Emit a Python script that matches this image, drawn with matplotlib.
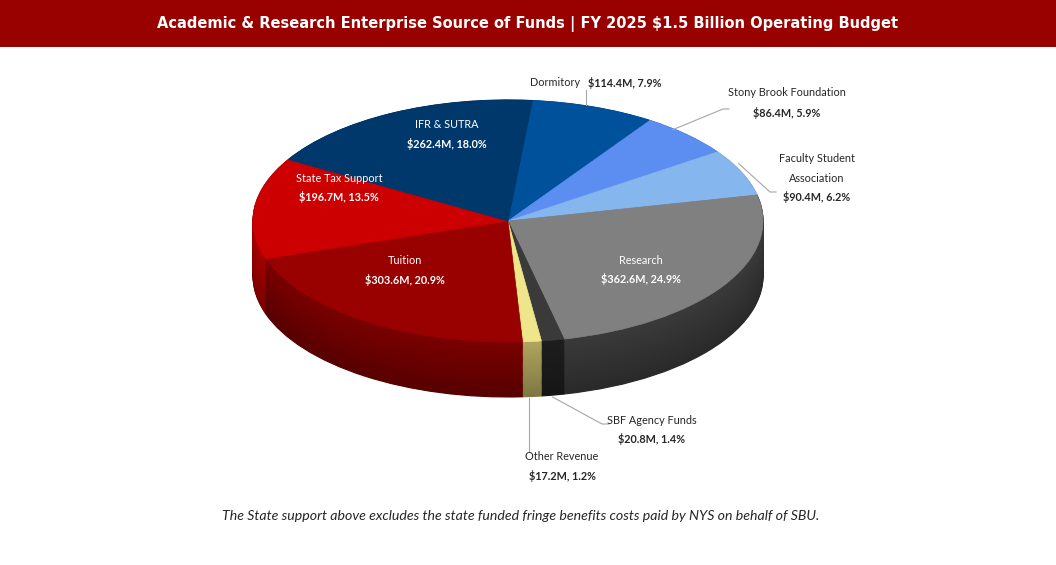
import matplotlib
matplotlib.use("Agg")
import matplotlib.pyplot as plt
import numpy as np
from matplotlib.colors import to_rgb
from matplotlib.transforms import Affine2D
from matplotlib.patches import Rectangle

# ---------------- data ----------------
categories = ["Dormitory", "Stony Brook Foundation", "Faculty Student\nAssociation",
              "Research", "SBF Agency Funds", "Other Revenue", "Tuition",
              "State Tax Support", "IFR & SUTRA"]
values = [114.4, 86.4, 90.4, 362.6, 20.8, 17.2, 303.6, 196.7, 262.4]
pct_labels = ["7.9%", "5.9%", "6.2%", "24.9%", "1.4%", "1.2%", "20.9%", "13.5%", "18.0%"]
top_colors = ["#00519c", "#5b8ef0", "#86b6ee", "#808080", "#3a3a3a", "#efe58a",
              "#990000", "#cc0000", "#00386b"]
side_colors = ["#003f7a", "#4670c0", "#6a92c0", "#3a3a3a", "#1e1e1e", "#b0a65e",
               "#7a0000", "#a80000", "#002a50"]
title = "Academic & Research Enterprise Source of Funds | FY 2025 $1.5 Billion Operating Budget"
footnote = "The State support above excludes the state funded fringe benefits costs paid by NYS on behalf of SBU."

# ---------------- layout ----------------
W, H = 1056, 565
cx, cy, rx, ry, depth = 508, 221, 255, 121, 55
start = 84.5

fig = plt.figure(figsize=(W / 100, H / 100), dpi=100)
fig.patch.set_facecolor("white")
ax = fig.add_axes([0, 0, 1, 1])

def shade(c, f):
    r, g, b = to_rgb(c)
    return (r * f, g * f, b * f)

n = 60
for i in range(n):
    t = i / (n - 1)                      # 0 = bottom layer, 1 = just below top
    d = depth / ry * (1 - t)
    f = 0.72 + 0.28 * t
    wedges, _ = ax.pie(values, colors=[shade(c, f) for c in side_colors],
                       startangle=start, counterclock=False, center=(0, -d), radius=1,
                       wedgeprops=dict(linewidth=0))
    for w in wedges:
        w.set_edgecolor(w.get_facecolor())
        w.set_linewidth(0.8)

wedges, _ = ax.pie(values, colors=top_colors, startangle=start, counterclock=False,
                   center=(0, 0), radius=1, wedgeprops=dict(linewidth=0))
for w in wedges:
    w.set_edgecolor(w.get_facecolor())
    w.set_linewidth(0.5)

ax.set_aspect("auto")
ax.set_xlim((0 - cx) / rx, (W - cx) / rx)
ax.set_ylim((cy - H) / ry, cy / ry)
ax.axis("off")

# pixel transform (origin top-left)
pix = Affine2D().scale(1, -1).translate(0, H)

# title bar
fig.patches.append(Rectangle((0, 0), W, 47, transform=pix, facecolor="#990000",
                             edgecolor="none", zorder=0))
fig.text(528, 24, title, transform=pix, ha="center", va="center", color="white",
         fontsize=10.5, fontweight="bold", family="DejaVu Sans")

lab_font = "Lato"
fs = 7.8

def money(i):
    return f"${values[i]:.1f}M, {pct_labels[i]}"

# mid angle of each slice on ellipse
tot = sum(values)
cum = np.cumsum([0] + values)
def edge_pt(i, bottom=False):
    mid = (cum[i] + values[i] / 2) / tot * 360
    a = np.deg2rad(start - mid)
    x = cx + rx * np.cos(a)
    y = cy - ry * np.sin(a) + (depth if bottom else 0)
    return x, y

# inside labels (white)
inside = {8: (447, 125), 7: (339, 178), 6: (405, 261), 3: (641, 260)}
for i, (x, y) in inside.items():
    fig.text(x, y, categories[i], transform=pix, ha="center", va="center",
             color="white", fontsize=fs, family=lab_font)
    fig.text(x, y + 19, money(i), transform=pix, ha="center", va="center",
             color="white", fontsize=fs, family=lab_font, fontweight="bold")

tc = "#262626"
lc = "#a6a6a6"
# Dormitory
x0, y0 = edge_pt(0)
fig.add_artist(plt.Line2D([x0 - 8, x0 - 8], [y0 - 2, 90], transform=pix, color=lc, lw=0.8))
fig.text(583, 83, categories[0] + " ", transform=pix, ha="right", va="center",
         color=tc, fontsize=fs, family=lab_font)
fig.text(588, 83, money(0), transform=pix, ha="left", va="center",
         color=tc, fontsize=fs, family=lab_font, fontweight="bold")
# Stony Brook Foundation
x0, y0 = edge_pt(1)
fig.add_artist(plt.Line2D([x0 - 14, 723, 729], [y0 - 5, 109, 109], transform=pix, color=lc, lw=0.8))
fig.text(787, 93, categories[1], transform=pix, ha="center", va="center",
         color=tc, fontsize=fs, family=lab_font)
fig.text(787, 113, money(1), transform=pix, ha="center", va="center",
         color=tc, fontsize=fs, family=lab_font, fontweight="bold")
# Faculty Student Association
x0, y0 = edge_pt(2)
fig.add_artist(plt.Line2D([x0 - 3, 770, 776], [y0 - 9, 192, 192], transform=pix, color=lc, lw=0.8))
fig.text(817, 169, categories[2], transform=pix, ha="center", va="center",
         color=tc, fontsize=fs, family=lab_font, linespacing=2.0)
fig.text(817, 197, money(2), transform=pix, ha="center", va="center",
         color=tc, fontsize=fs, family=lab_font, fontweight="bold")
# SBF Agency Funds
x0, y0 = edge_pt(4, bottom=True)
fig.add_artist(plt.Line2D([x0, 602, 609], [y0 + 2, 424, 424], transform=pix, color=lc, lw=0.8))
fig.text(652, 421, categories[4], transform=pix, ha="center", va="center",
         color=tc, fontsize=fs, family=lab_font)
fig.text(652, 439, money(4), transform=pix, ha="center", va="center",
         color=tc, fontsize=fs, family=lab_font, fontweight="bold")
# Other Revenue
x0, y0 = edge_pt(5, bottom=True)
fig.add_artist(plt.Line2D([x0 - 3, x0 - 3], [y0 + 2, 452], transform=pix, color=lc, lw=0.8))
fig.text(562, 456, categories[5], transform=pix, ha="center", va="center",
         color=tc, fontsize=fs, family=lab_font)
fig.text(562, 476, money(5), transform=pix, ha="center", va="center",
         color=tc, fontsize=fs, family=lab_font, fontweight="bold")

# footnote
fig.text(521, 516, footnote, transform=pix, ha="center", va="center", color="#262626",
         fontsize=10.2, family=lab_font, style="italic")

fig.savefig("out.png", dpi=100, facecolor="white")
